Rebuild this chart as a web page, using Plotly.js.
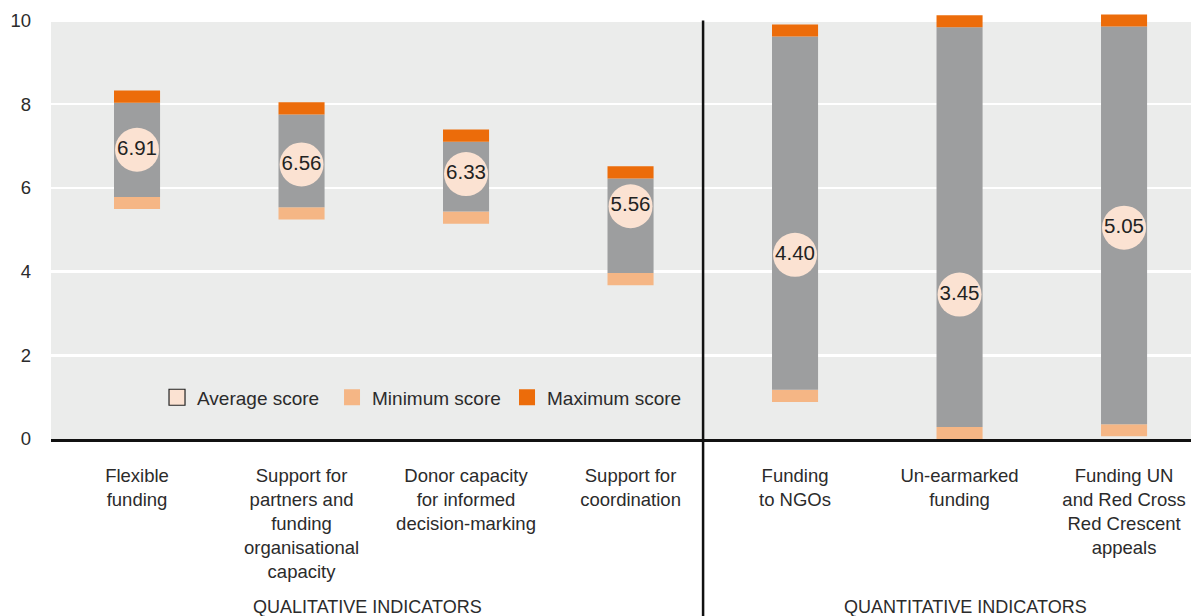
<!DOCTYPE html>
<html>
<head>
<meta charset="utf-8">
<script src="https://cdn.plot.ly/plotly-3.0.1.min.js"></script>
<style>
  html, body { margin: 0; padding: 0; background: #fff; }
  #chart { width: 1191px; height: 616px; }
</style>
</head>
<body>
<div id="chart"></div>
<script>
// indicator labels (line breaks as in the report)
var categories = [
    "Flexible<br>funding",
    "Support for<br>partners and<br>funding<br>organisational<br>capacity",
    "Donor capacity<br>for informed<br>decision-marking",
    "Support for<br>coordination",
    "Funding<br>to NGOs",
    "Un-earmarked<br>funding",
    "Funding UN<br>and Red Cross<br>Red Crescent<br>appeals"
];

// scores
var avgScores = [6.91, 6.56, 6.33, 5.56, 4.40, 3.45, 5.05];
var minScores = [5.64, 5.39, 5.29, 3.82, 1.03, 0.14, 0.21];
var maxScores = [8.18, 7.90, 7.25, 6.37, 9.76, 9.98, 10.00];

var groupNames = ["QUALITATIVE INDICATORS", "QUANTITATIVE INDICATORS"];

// height of the min / max markers on the bars
var cap = 0.29;

var font = "Liberation Sans, Arial, sans-serif";
var textColor = "#2b2b2b";

var lowCap = {
    type: "bar",
    x: categories,
    y: minScores.map(function () { return cap; }),
    base: minScores.map(function (v) { return v - cap / 2; }),
    width: 0.28,
    marker: { color: "#f5b685" },
    showlegend: false,
    hoverinfo: "skip"
};

var rangeBar = {
    type: "bar",
    x: categories,
    y: maxScores.map(function (v, i) { return v - minScores[i] - cap; }),
    base: minScores.map(function (v) { return v + cap / 2; }),
    width: 0.28,
    marker: { color: "#9d9e9f" },
    showlegend: false,
    hoverinfo: "skip"
};

var highCap = {
    type: "bar",
    x: categories,
    y: maxScores.map(function () { return cap; }),
    base: maxScores.map(function (v) { return v - cap / 2; }),
    width: 0.28,
    marker: { color: "#ec6c0a" },
    showlegend: false,
    hoverinfo: "skip"
};

var averages = {
    type: "scatter",
    mode: "markers+text",
    x: categories,
    y: avgScores,
    text: avgScores.map(function (v) { return v.toFixed(2); }),
    textposition: "middle center",
    textfont: { family: font, size: 20.5, color: "#222" },
    marker: { color: "#fbe2d2", size: 44, line: { width: 0 } },
    cliponaxis: false,
    showlegend: false
};

// legend entries only
function legendItem(name, color, lineWidth) {
    return {
        type: "scatter",
        mode: "markers",
        x: [null],
        y: [null],
        name: name,
        marker: { symbol: "square", size: 16, color: color, line: { color: "#222", width: lineWidth } }
    };
}

var data = [
    lowCap, rangeBar, highCap, averages,
    legendItem("Average score", "#fbe2d2", 1.2),
    legendItem("Minimum score", "#f5b685", 0),
    legendItem("Maximum score", "#ec6c0a", 0)
];

var layout = {
    width: 1191,
    height: 616,
    margin: { l: 51, r: 0, t: 10, b: 177 },
    paper_bgcolor: "#ffffff",
    plot_bgcolor: "rgba(0,0,0,0)",
    barmode: "overlay",
    font: { family: font, size: 18.5, color: textColor },
    showlegend: true,
    legend: {
        orientation: "h",
        x: 0.093,
        xanchor: "left",
        y: 0.097,
        yanchor: "middle",
        entrywidth: 130,
        bgcolor: "rgba(0,0,0,0)",
        font: { family: font, size: 19, color: textColor }
    },
    xaxis: {
        type: "category",
        range: [-0.523, 6.407],
        showgrid: false,
        showline: true,
        linecolor: "#111",
        linewidth: 2.5,
        ticks: "",
        ticklabelstandoff: 18,
        tickfont: { family: font, size: 18.5, color: textColor },
        fixedrange: true
    },
    yaxis: {
        range: [0, 10.25],
        tickvals: [0, 2, 4, 6, 8, 10],
        showgrid: true,
        gridcolor: "#ffffff",
        gridwidth: 2.5,
        zeroline: false,
        showline: false,
        ticks: "",
        ticklabelstandoff: 19,
        tickfont: { family: font, size: 18.5, color: textColor },
        fixedrange: true
    },
    shapes: [
        {
            type: "rect", layer: "below",
            xref: "paper", x0: 0, x1: 1,
            yref: "y", y0: 0, y1: 10,
            fillcolor: "#ebeceb", line: { width: 0 }
        },
        {
            type: "line", layer: "above",
            xref: "paper", x0: 0.572, x1: 0.572,
            yref: "paper", y0: 10 / 10.25, y1: -0.42,
            line: { color: "#111", width: 2.5 }
        }
    ],
    annotations: [
        {
            xref: "paper", yref: "paper", x: 0.278, y: -0.392,
            xanchor: "center", yanchor: "middle", showarrow: false,
            text: groupNames[0], font: { family: font, size: 18, color: textColor }
        },
        {
            xref: "paper", yref: "paper", x: 0.802, y: -0.392,
            xanchor: "center", yanchor: "middle", showarrow: false,
            text: groupNames[1], font: { family: font, size: 18, color: textColor }
        }
    ]
};

Plotly.newPlot("chart", data, layout, { displayModeBar: false, staticPlot: true });
</script>
</body>
</html>
